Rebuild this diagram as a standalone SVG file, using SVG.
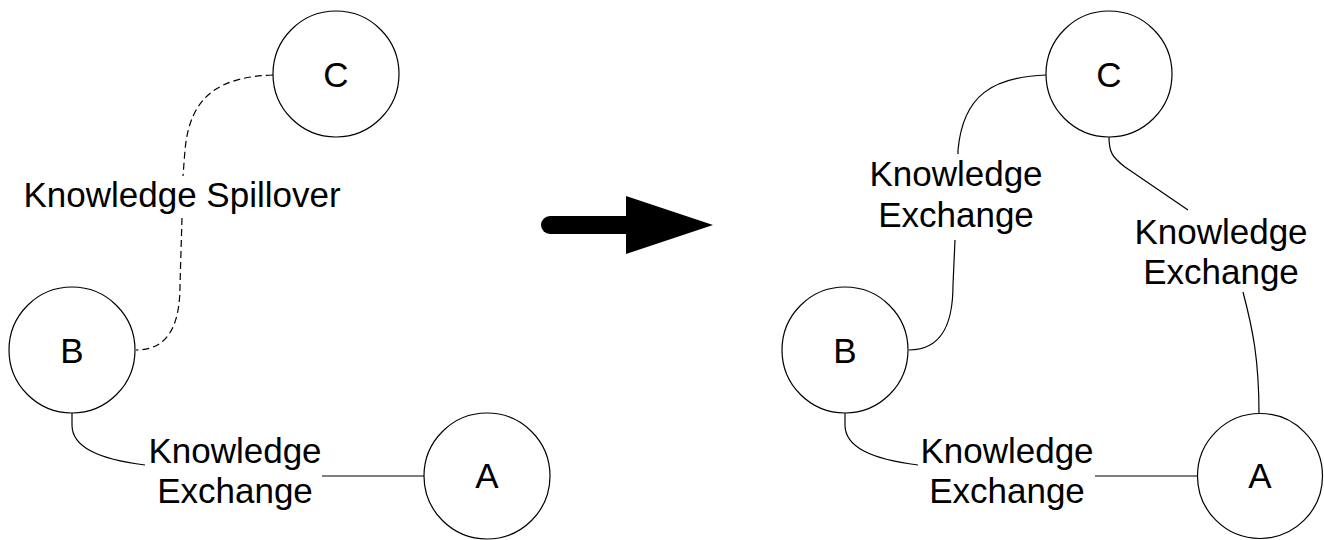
<svg xmlns="http://www.w3.org/2000/svg" width="1324" height="540" viewBox="0 0 1324 540">
  <style>
    .node { fill: #ffffff; stroke: #000000; stroke-width: 1.2; }
    .label { font-family: "Liberation Sans", Arial, sans-serif; font-size: 35px; fill: #000000; text-anchor: middle; }
    .link { fill: none; stroke: #000000; stroke-width: 1.2; }
    .dashed { stroke-dasharray: 7 4; }
  </style>

  <!-- connectors -->
  <g id="connectors">
    <!-- before: spillover C..B -->
    <path class="link dashed" d="M 273 75 C 220 77 190 95 185 150 L 183 176"/>
    <path class="link dashed" d="M 182 218 L 180 285 C 180 322 170 350 136 350"/>
    <text class="label" x="182" y="207">Knowledge Spillover</text>

    <!-- before: exchange B-A -->
    <path class="link" d="M 72 413 L 72 425 C 72 447 98 459 145 465"/>
    <path class="link" d="M 322 476 L 424 476"/>
    <text class="label" x="235" y="463">Knowledge</text>
    <text class="label" x="235" y="503">Exchange</text>

    <!-- transition arrow -->
    <line x1="550" y1="225" x2="632" y2="225" stroke="#000000" stroke-width="18" stroke-linecap="round"/>
    <polygon points="626,196 713,225 626,254" fill="#000000"/>

    <!-- after: exchange C-B -->
    <path class="link" d="M 1046 75 C 993 77 963 95 958 150 L 958 154"/>
    <path class="link" d="M 955 240 L 953 285 C 953 322 943 350 909 350"/>
    <text class="label" x="956" y="186">Knowledge</text>
    <text class="label" x="956" y="227">Exchange</text>

    <!-- after: exchange C-A -->
    <path class="link" d="M 1109 137 C 1109 152 1112 157 1125 167 L 1188 210"/>
    <path class="link" d="M 1243 292 C 1253 330 1259 360 1259 414"/>
    <text class="label" x="1221" y="244">Knowledge</text>
    <text class="label" x="1221" y="284">Exchange</text>

    <!-- after: exchange B-A -->
    <path class="link" d="M 845 413 L 845 425 C 845 447 871 459 918 465"/>
    <path class="link" d="M 1095 476 L 1198 476"/>
    <text class="label" x="1007" y="463">Knowledge</text>
    <text class="label" x="1007" y="503">Exchange</text>
  </g>

  <!-- before -->
  <g id="node-C1">
    <circle class="node" cx="336" cy="74" r="63"/>
    <text class="label" x="336" y="87">C</text>
  </g>
  <g id="node-B1">
    <circle class="node" cx="72" cy="350" r="63"/>
    <text class="label" x="72" y="363">B</text>
  </g>
  <g id="node-A1">
    <circle class="node" cx="487" cy="476" r="63"/>
    <text class="label" x="487" y="488">A</text>
  </g>

  <!-- after -->
  <g id="node-C2">
    <circle class="node" cx="1109" cy="74" r="63"/>
    <text class="label" x="1109" y="87">C</text>
  </g>
  <g id="node-B2">
    <circle class="node" cx="845" cy="350" r="63"/>
    <text class="label" x="845" y="363">B</text>
  </g>
  <g id="node-A2">
    <circle class="node" cx="1260" cy="476" r="62.5"/>
    <text class="label" x="1260" y="488">A</text>
  </g>
</svg>
